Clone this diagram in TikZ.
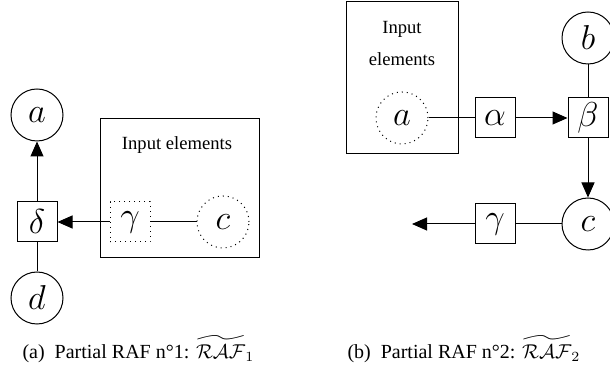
\documentclass[tikz,border=0pt]{standalone}
\usepackage{amsmath,amssymb}
\usepackage{fontspec}
\setmainfont{Liberation Serif}
\usetikzlibrary{arrows.meta,positioning}

\begin{document}
\begin{tikzpicture}[x=0.5pt,y=-0.5pt,line width=0.5pt,
  state/.style={draw,circle,minimum size=26pt,inner sep=0pt,font=\fontsize{16}{18}\selectfont},
  reac/.style={draw,minimum size=20pt,inner sep=0pt,font=\fontsize{16}{18}\selectfont},
  inset/.style={draw,inner sep=0pt},
  arr/.style={-{Triangle[length=7.5pt,width=6.5pt]}}]
\useasboundingbox (0,0) rectangle (610,373);
% (a) partial RAF 1
\node[inset,minimum width=79.5pt,minimum height=69.5pt] (in1) at (179.5,188.5) {};
\node[font=\fontsize{9.3}{11}\selectfont] (in1txt) at (177,145) {Input elements};
\node[state] (a1) at (37,115) {$a$};
\node[reac] (delta) at (37,222) {$\delta$};
\node[state] (d1) at (37,298) {$d$};
\node[reac,dotted] (gam1) at (130,222) {$\gamma$};
\node[state,dotted] (c1) at (223,222) {$c$};
\draw (d1)--(delta);
\draw[arr] (delta)--(a1);
\draw[arr] (gam1)--(delta);
\draw (gam1)--(c1);
% (b) partial RAF 2
\node[inset,minimum width=56pt,minimum height=76pt] (in2) at (402,78) {};
\node[font=\fontsize{9.3}{16}\selectfont,align=center] (in2txt) at (402,44) {Input\\elements};
\node[state,dotted] (a2) at (402,118) {$a$};
\node[reac] (alpha) at (495,118) {$\alpha$};
\node[reac] (beta) at (588,118) {$\beta$};
\node[state] (b2) at (588,38) {$b$};
\node[state] (c2) at (588,224) {$c$};
\node[reac] (gam2) at (495,224) {$\gamma$};
\coordinate (out2) at (412,224);
\draw (a2)--(alpha);
\draw[arr] (alpha)--(beta);
\draw (b2)--(beta);
\draw[arr] (beta)--(c2);
\draw (c2)--(gam2);
\draw[arr] (gam2)--(out2);
% captions
\node[anchor=west,font=\fontsize{10}{12}\selectfont,inner sep=0pt] (capa) at (22,349) {(a)~~Partial RAF n°1: $\widetilde{\mathcal{RAF}}_1$};
\node[anchor=west,font=\fontsize{10}{12}\selectfont,inner sep=0pt] (capb) at (347,349) {(b)~~Partial RAF n°2: $\widetilde{\mathcal{RAF}}_2$};
\end{tikzpicture}
\end{document}
